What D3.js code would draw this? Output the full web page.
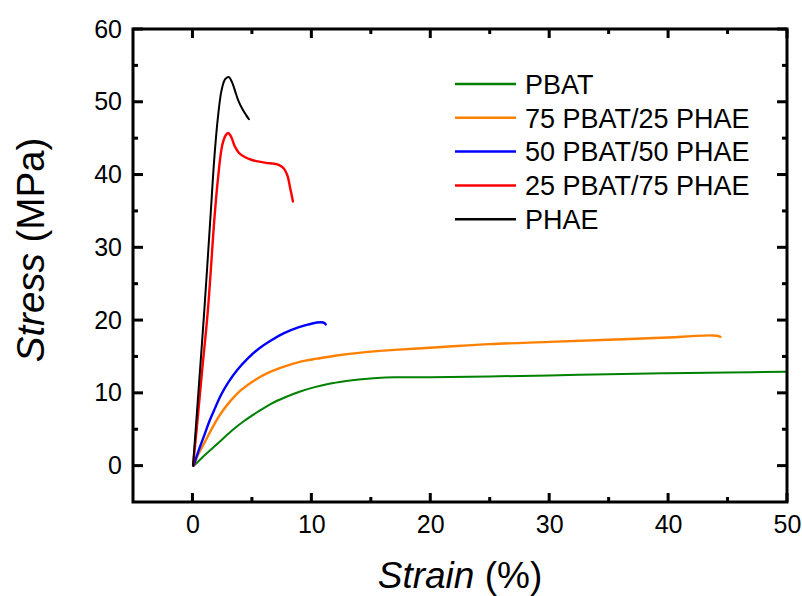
<!DOCTYPE html>
<html>
<head>
<meta charset="utf-8">
<script src="https://cdn.jsdelivr.net/npm/d3@7"></script>
<style>
  body { margin: 0; background: #fff; }
  text { font-family: Arial, "Liberation Sans", sans-serif; fill: #000; }
</style>
</head>
<body>
<div id="chart"></div>
<script>
// data
const seriesNames = ['PBAT', '75 PBAT/25 PHAE', '50 PBAT/50 PHAE', '25 PBAT/75 PHAE', 'PHAE'];
const seriesColors = ['#008000', '#ff8000', '#0000ff', '#ff0000', '#000000'];

const pbatStrain = [0.2, 1.0, 2.1, 3.3, 4.4, 5.5, 6.6, 7.8, 9.0, 10.2, 11.5, 12.8, 14.0, 15.5, 17.0, 20, 25, 30, 35, 40, 45, 50];
const pbatStress = [0.1, 1.4, 3.0, 4.8, 6.2, 7.4, 8.5, 9.4, 10.15, 10.75, 11.25, 11.6, 11.85, 12.05, 12.15, 12.15, 12.25, 12.4, 12.55, 12.7, 12.8, 12.9];

const b75Strain = [0.1, 0.5, 1.0, 1.7, 2.4, 3.2, 4.1, 5.2, 6.3, 7.7, 9.1, 10.5, 12, 14, 17, 21, 25, 30, 35, 40, 42, 43.5, 44.1, 44.4];
const b75Stress = [0, 1.6, 3.1, 5.3, 7.2, 8.9, 10.4, 11.7, 12.7, 13.6, 14.3, 14.7, 15.1, 15.5, 15.9, 16.3, 16.7, 17.0, 17.3, 17.6, 17.8, 17.9, 17.85, 17.7];

const b50Strain = [0.1, 0.5, 1.0, 1.4, 1.9, 2.4, 3.0, 3.8, 4.7, 5.6, 6.6, 7.7, 8.9, 10.0, 10.8, 11.1, 11.2];
const b50Stress = [0, 2.0, 4.2, 6.0, 7.9, 9.7, 11.4, 13.2, 14.8, 16.1, 17.2, 18.2, 19.0, 19.5, 19.7, 19.6, 19.4];

const b25Strain = [0.05, 0.4, 0.8, 1.3, 1.85, 2.15, 2.5, 2.8, 3.0, 3.25, 3.55, 3.9, 4.4, 5.0, 5.5, 6.2, 6.8, 7.3, 7.7, 8.0, 8.2, 8.45];
const b25Stress = [0, 5.8, 12.8, 21.4, 34.0, 39.5, 44.0, 45.4, 45.7, 45.2, 43.9, 43.0, 42.4, 42.0, 41.8, 41.6, 41.5, 41.3, 40.8, 39.8, 38.3, 36.3];

const phaeStrain = [0.05, 0.6, 1.0, 1.5, 1.85, 2.15, 2.45, 2.75, 3.05, 3.35, 3.6, 3.85, 4.2, 4.5, 4.75];
const phaeStress = [0, 12.3, 21.4, 33.8, 42.5, 48.0, 51.6, 53.1, 53.4, 52.6, 51.4, 50.2, 49.0, 48.2, 47.6];

const xTicks = [0, 10, 20, 30, 40, 50];
const yTicks = [0, 10, 20, 30, 40, 50, 60];
const xMinor = [5, 15, 25, 35, 45];
const yMinor = [5, 15, 25, 35, 45, 55];

const svgWidth = 802;
const svgHeight = 596;
const margin = {top: 29, right: 15, bottom: 94, left: 133};
const width = svgWidth - margin.left - margin.right;
const height = svgHeight - margin.top - margin.bottom;

const svg = d3.select('#chart')
            .append('svg')
            .attr('width', svgWidth)
            .attr('height', svgHeight);

const chartGroup = svg.append('g')
                    .attr('transform', `translate(${margin.left}, ${margin.top})`);

const x = d3.scaleLinear().domain([-5, 50]).range([0, width]);
const y = d3.scaleLinear().domain([-5, 60]).range([height, 0]);

const allStrain = [pbatStrain, b75Strain, b50Strain, b25Strain, phaeStrain];
const allStress = [pbatStress, b75Stress, b50Stress, b25Stress, phaeStress];
const series = seriesNames.map((name, i) => ({
    name: name,
    color: seriesColors[i],
    points: allStrain[i].map((s, j) => [s, allStress[i][j]])
}));

const line = d3.line()
            .x(d => x(d[0]))
            .y(d => y(d[1]))
            .curve(d3.curveCatmullRom.alpha(0.5));

series.forEach(s => {
    chartGroup.append('path')
        .datum(s.points)
        .attr('fill', 'none')
        .attr('stroke', s.color)
        .attr('stroke-width', s.name === 'PBAT' || s.name === 'PHAE' ? 2 : 2.4)
        .attr('stroke-linejoin', 'round')
        .attr('stroke-linecap', 'round')
        .attr('d', line);
});

// tick labels from d3 axes
function labelsOnly(g) {
    g.select('.domain').remove();
    g.selectAll('.tick line').remove();
    g.selectAll('.tick text').attr('font-size', 25).attr('fill', '#000')
        .style('font-family', 'Arial, "Liberation Sans", sans-serif');
}

chartGroup.append('g').attr('transform', `translate(0,${height})`)
    .call(d3.axisBottom(x).tickValues(xTicks).tickSize(0).tickPadding(13).tickFormat(d3.format('d')))
    .call(labelsOnly);
chartGroup.append('g')
    .call(d3.axisLeft(y).tickValues(yTicks).tickSize(0).tickPadding(11).tickFormat(d3.format('d')))
    .call(labelsOnly);

// tick marks, inward on all four sides
const tw = 3;
const tickGroup = chartGroup.append('g').attr('fill', '#000');
[[xTicks, 9], [xMinor, 5]].forEach(([vals, len]) => {
    tickGroup.selectAll(null).data(vals).enter().append('rect')
        .attr('x', d => x(d) - tw / 2).attr('width', tw)
        .attr('y', height - len).attr('height', len);
    tickGroup.selectAll(null).data(vals).enter().append('rect')
        .attr('x', d => x(d) - tw / 2).attr('width', tw)
        .attr('y', 0).attr('height', len);
});
[[yTicks, 10], [yMinor, 5]].forEach(([vals, len]) => {
    tickGroup.selectAll(null).data(vals).enter().append('rect')
        .attr('y', d => y(d) - tw / 2).attr('height', tw)
        .attr('x', 0).attr('width', len);
    tickGroup.selectAll(null).data(vals).enter().append('rect')
        .attr('y', d => y(d) - tw / 2).attr('height', tw)
        .attr('x', width - len).attr('width', len);
});

chartGroup.append('rect')
    .attr('width', width)
    .attr('height', height)
    .attr('fill', 'none')
    .attr('stroke', '#000')
    .attr('stroke-width', 3);

// axis titles
const yTitle = svg.append('text')
    .attr('transform', `translate(44, 250) rotate(-90)`)
    .attr('text-anchor', 'middle')
    .attr('font-size', 38.5);
yTitle.append('tspan').attr('font-style', 'italic').text('Stress');
yTitle.append('tspan').text(' (MPa)');

const xTitle = svg.append('text')
    .attr('x', margin.left + width / 2)
    .attr('y', 588)
    .attr('text-anchor', 'middle')
    .attr('font-size', 37);
xTitle.append('tspan').attr('font-style', 'italic').text('Strain');
xTitle.append('tspan').text(' (%)');

// legend
const legend = svg.append('g').attr('transform', 'translate(455, 84)');
series.forEach((s, i) => {
    const row = legend.append('g').attr('transform', `translate(0, ${i * 33.8})`);
    row.append('line')
        .attr('x1', 0).attr('x2', 61)
        .attr('stroke', s.color)
        .attr('stroke-width', 2.5);
    row.append('text')
        .attr('x', 70)
        .attr('dy', '0.36em')
        .attr('font-size', 27)
        .text(s.name);
});
</script>
</body>
</html>
